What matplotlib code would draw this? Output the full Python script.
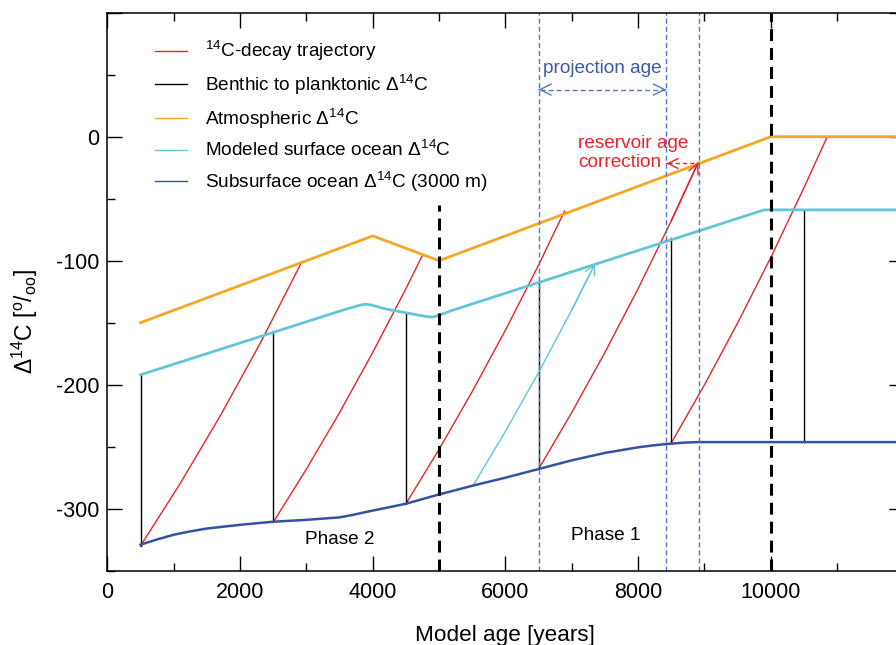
import numpy as np
import matplotlib
matplotlib.use('Agg')
import matplotlib.pyplot as plt
from matplotlib.ticker import MultipleLocator

plt.rcParams['font.family'] = ['Liberation Sans', 'DejaVu Sans']
plt.rcParams['mathtext.fontset'] = 'custom'
plt.rcParams['mathtext.rm'] = 'Liberation Sans'
plt.rcParams['mathtext.it'] = 'Liberation Sans:italic'

# atmosphere
atm_x = [500, 4000, 5000, 10000, 12000]
atm_y = [-150, -80, -100, 0, 0]

# modeled surface ocean
surf_x = [500, 3600, 3800, 3900, 4000, 4200, 4500, 4800, 4900, 5000, 5200, 9900, 12000]
surf_y = [-192, -139, -136, -135, -136, -139, -142, -145, -145.5, -144, -140, -59, -59]

# subsurface ocean (3000 m)
sub_x = [500, 750, 1000, 1250, 1500, 2000, 2500, 3000, 3500, 3700, 4000, 4250, 4500, 5000,
         5500, 6000, 6500, 7000, 7500, 8000, 8250, 8500, 8700, 8900, 12000]
sub_y = [-329, -324.8, -321, -318.3, -316, -313, -310.5, -309, -307, -305, -301.5, -298.8,
         -296, -288.5, -281.5, -275, -268, -261, -255, -250.5, -248.8, -247.5, -246.7,
         -246.3, -246.3]

# 14C decay trajectories (red)
traj1_x = [500, 1100, 1700, 2300, 2920]
traj1_y = [-330, -279.5, -225.3, -167.0, -102.1]
traj2_x = [2500, 3000, 3500, 4000, 4500, 4750]
traj2_y = [-311, -268.1, -222.5, -174.0, -122.6, -95.5]
traj3_x = [4500, 5000, 5500, 6000, 6500, 6890]
traj3_y = [-296, -252.1, -205.5, -156.0, -103.5, -60.0]
traj4_x = [6500, 7000, 7500, 8000, 8500, 8907]
traj4_y = [-268, -222.4, -173.9, -122.5, -67.8, -20.6]
traj5_x = [8500, 9000, 9500, 10000, 10500, 10850]
traj5_y = [-247, -200.1, -150.2, -97.3, -41.1, 0]
trajs = [(traj1_x, traj1_y), (traj2_x, traj2_y), (traj3_x, traj3_y),
         (traj4_x, traj4_y), (traj5_x, traj5_y)]

# cyan projection trajectory
proj_x = [5516, 6000, 6500, 7000, 7352]
proj_y = [-281, -237.6, -190.1, -139.7, -102.2]

# benthic to planktonic verticals
bp_x = [500, 2500, 4500, 6500, 8500, 10500]
bp_lo = [-330, -311, -296, -268, -247, -246.3]
bp_hi = [-192, -156.5, -142, -116, -81.5, -59]

# phase boundaries and helper lines
phase_x = [5000, 10000]
phase_top = [-55, 100]
helper_x = [6500, 8420, 8920]

red = '#e8232b'
orange = '#f6a623'
cyan = '#62c6d8'
dblue = '#3452a4'
hblue = '#5676c0'

fig = plt.figure(figsize=(8.96, 6.45), dpi=100)
ax = fig.add_axes([0.1198, 0.1152, 0.8886, 0.8651])

for i, (tx, ty) in enumerate(trajs):
    ax.plot(tx, ty, color=red, lw=1.0, label='$^{14}$C-decay trajectory' if i == 0 else None)

for i in range(len(bp_x)):
    ax.plot([bp_x[i], bp_x[i]], [bp_lo[i], bp_hi[i]], color='black', lw=1.0,
            label=r'Benthic to planktonic $\Delta^{14}$C' if i == 0 else None)

ax.plot(atm_x, atm_y, color=orange, lw=2.0, label=r'Atmospheric $\Delta^{14}$C')
ax.plot(surf_x, surf_y, color=cyan, lw=2.0, label=r'Modeled surface ocean $\Delta^{14}$C')
ax.plot(proj_x, proj_y, color=cyan, lw=1.0)
ax.plot(sub_x, sub_y, color=dblue, lw=1.8, label=r'Subsurface ocean $\Delta^{14}$C (3000 m)')

# arrow heads on trajectories
ax.annotate('', xy=(traj4_x[-1], traj4_y[-1]), xytext=(traj4_x[-2], traj4_y[-2]),
            arrowprops=dict(arrowstyle='->', color=red, lw=1.0, mutation_scale=18,
                            shrinkA=0, shrinkB=0))
ax.annotate('', xy=(proj_x[-1], proj_y[-1]), xytext=(proj_x[-2], proj_y[-2]),
            arrowprops=dict(arrowstyle='->', color=cyan, lw=1.0, mutation_scale=18,
                            shrinkA=0, shrinkB=0))

# phase boundaries
for px, pt in zip(phase_x, phase_top):
    ax.plot([px, px], [-350, pt], color='black', lw=2.2, dashes=(3.9, 2.3))

for hx in helper_x:
    ax.axvline(hx, color=hblue, lw=1.0, dashes=(3.6, 2.2))

# projection age arrow
ax.plot([6520, 8400], [38, 38], color=hblue, lw=1.0, dashes=(3.6, 2.2))
ax.annotate('', xy=(6500, 38), xytext=(6510, 38),
            arrowprops=dict(arrowstyle='->', color=hblue, lw=1.0, mutation_scale=20,
                            shrinkA=0, shrinkB=0))
ax.annotate('', xy=(8420, 38), xytext=(8410, 38),
            arrowprops=dict(arrowstyle='->', color=hblue, lw=1.0, mutation_scale=20,
                            shrinkA=0, shrinkB=0))
ax.text(7466, 55, 'projection age', color='#3b5aa8', fontsize=13.7, ha='center', va='center')

# reservoir age correction arrow
ax.plot([8450, 8900], [-21.6, -21.6], color=red, lw=1.0, dashes=(3.0, 2.2))
ax.annotate('', xy=(8430, -21.6), xytext=(8440, -21.6),
            arrowprops=dict(arrowstyle='->', color=red, lw=1.0, mutation_scale=18,
                            shrinkA=0, shrinkB=0))
ax.text(7094, -13, 'reservoir age\ncorrection', color=red, fontsize=13.7,
        ha='left', va='center', linespacing=1.15)

ax.text(3500, -325, 'Phase 2', fontsize=13.7, ha='center', va='center')
ax.text(7516, -322, 'Phase 1', fontsize=13.7, ha='center', va='center')

ax.set_xlim(0, 12000)
ax.set_ylim(-350, 100)
ax.set_xticks([0, 2000, 4000, 6000, 8000, 10000, 12000])
ax.set_xticklabels(['0', '2000', '4000', '6000', '8000', '10000', ''])
ax.xaxis.set_minor_locator(MultipleLocator(1000))
ax.set_yticks([-300, -200, -100, 0, 100])
ax.set_yticklabels(['-300', '-200', '-100', '0', ''])
ax.yaxis.set_minor_locator(MultipleLocator(50))
ax.tick_params(which='both', direction='in', top=True, right=True, width=1.0)
ax.tick_params(which='major', length=11, labelsize=15.5)
ax.tick_params(axis='x', which='major', pad=8)
ax.tick_params(axis='y', which='major', pad=6)
ax.tick_params(which='minor', length=5.5)
for s in ax.spines.values():
    s.set_linewidth(1.1)

ax.set_xlabel('Model age [years]', fontsize=16.2, labelpad=16)
ax.set_ylabel(r'$\Delta^{14}$C [$^{\rm o}$/$_{\rm oo}$]', fontsize=16.5)
ax.yaxis.set_label_coords(-0.085, 0.446)

leg = ax.legend(loc='upper left', bbox_to_anchor=(0.050, 0.966), frameon=False,
                fontsize=13.7, handlelength=1.7, handletextpad=0.95,
                labelspacing=0.5, borderaxespad=0)
for line in leg.get_lines():
    line.set_linewidth(1.0)

fig.savefig('out.png', dpi=100)
